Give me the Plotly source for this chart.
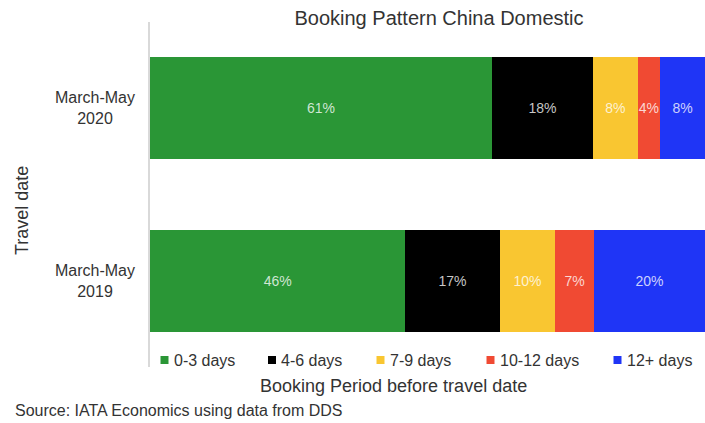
import plotly.graph_objects as go

# Travel periods (bottom to top) and booking-window shares in percent
periods = ["March-May 2019", "March-May 2020"]
period_labels = ["March-May<br>2019", "March-May<br>2020"]
windows = ["0-3 days", "4-6 days", "7-9 days", "10-12 days", "12+ days"]
share_2019 = [46, 17, 10, 7, 20]
share_2020 = [61, 18, 8, 4, 8]

colors = ["#2a9636", "#000000", "#f9c631", "#f04a33", "#1f35f6"]
FONT = "Liberation Sans, Arial, sans-serif"
TEXT = "#333333"

# Plot area in pixels (705 x 423 page)
L, R, T, B = 150, 0, 22, 56
W, H = 705, 423
PW, PH = W - L - R, H - T - B


def px_x(x):
    return (x - L) / PW


def px_y(y):
    return (H - B - y) / PH


fig = go.Figure()
for i, name in enumerate(windows):
    vals = [share_2019[i], share_2020[i]]
    fig.add_trace(go.Bar(
        y=periods,
        x=vals,
        name=name,
        orientation="h",
        marker=dict(color=colors[i], line=dict(width=0)),
        text=[f"{v}%" for v in vals],
        textposition="inside",
        insidetextanchor="middle",
        textangle=0,
        textfont=dict(family=FONT, size=14, color="rgba(255,255,255,0.78)"),
        constraintext="none",
        showlegend=False,
        hoverinfo="x+name",
    ))

annotations = []
# Category labels, centred under each other
for p, lab in zip(periods, period_labels):
    annotations.append(dict(
        x=px_x(95), xref="paper", y=p, yref="y", text=lab, showarrow=False,
        xanchor="center", yanchor="middle", align="center",
        font=dict(family=FONT, size=16, color=TEXT),
    ))

# Axis titles and source note
annotations += [
    dict(x=px_x(22), y=px_y(211), xref="paper", yref="paper", text="Travel date",
         textangle=-90, showarrow=False, xanchor="center", yanchor="middle",
         font=dict(family=FONT, size=18, color=TEXT)),
    dict(x=px_x(393.5), y=px_y(386), xref="paper", yref="paper",
         text="Booking Period before travel date", showarrow=False,
         xanchor="center", yanchor="middle",
         font=dict(family=FONT, size=18, color=TEXT)),
    dict(x=px_x(13), y=px_y(410), xref="paper", yref="paper",
         text="Source: IATA Economics using data from DDS", showarrow=False,
         xanchor="left", yanchor="middle",
         font=dict(family=FONT, size=16, color=TEXT)),
]

# Legend row: square swatch followed by its label
legend_cx = [164.5, 272, 380.5, 490.5, 617.5]
legend_cy = 360
shapes = []
for name, col, cx in zip(windows, colors, legend_cx):
    shapes.append(dict(
        type="rect", xref="paper", yref="paper",
        x0=px_x(cx - 4), x1=px_x(cx + 4),
        y0=px_y(legend_cy + 4), y1=px_y(legend_cy - 4),
        fillcolor=col, line=dict(width=0),
    ))
    annotations.append(dict(
        x=px_x(cx + 7), y=px_y(legend_cy), xref="paper", yref="paper",
        text=name, showarrow=False, xanchor="left", yanchor="middle",
        font=dict(family=FONT, size=16, color=TEXT),
    ))

fig.update_layout(
    barmode="stack",
    barnorm="percent",
    bargap=0.41,
    width=W, height=H,
    margin=dict(l=L, r=R, t=T, b=B, pad=0),
    paper_bgcolor="white",
    plot_bgcolor="white",
    title=dict(
        text="Booking Pattern China Domestic",
        x=439 / W, xanchor="center",
        y=1 - 18 / H, yanchor="middle",
        font=dict(family=FONT, size=20, color=TEXT),
    ),
    xaxis=dict(range=[0, 100], showgrid=False, zeroline=False,
               showticklabels=False, showline=False, fixedrange=True),
    yaxis=dict(categoryorder="array", categoryarray=periods,
               range=[-0.5, 1.5], showticklabels=False, showgrid=False,
               zeroline=False, showline=True, linecolor="#d9d9d9",
               linewidth=1.5, fixedrange=True),
    annotations=annotations,
    shapes=shapes,
    showlegend=False,
)

fig.write_html("out.html")
